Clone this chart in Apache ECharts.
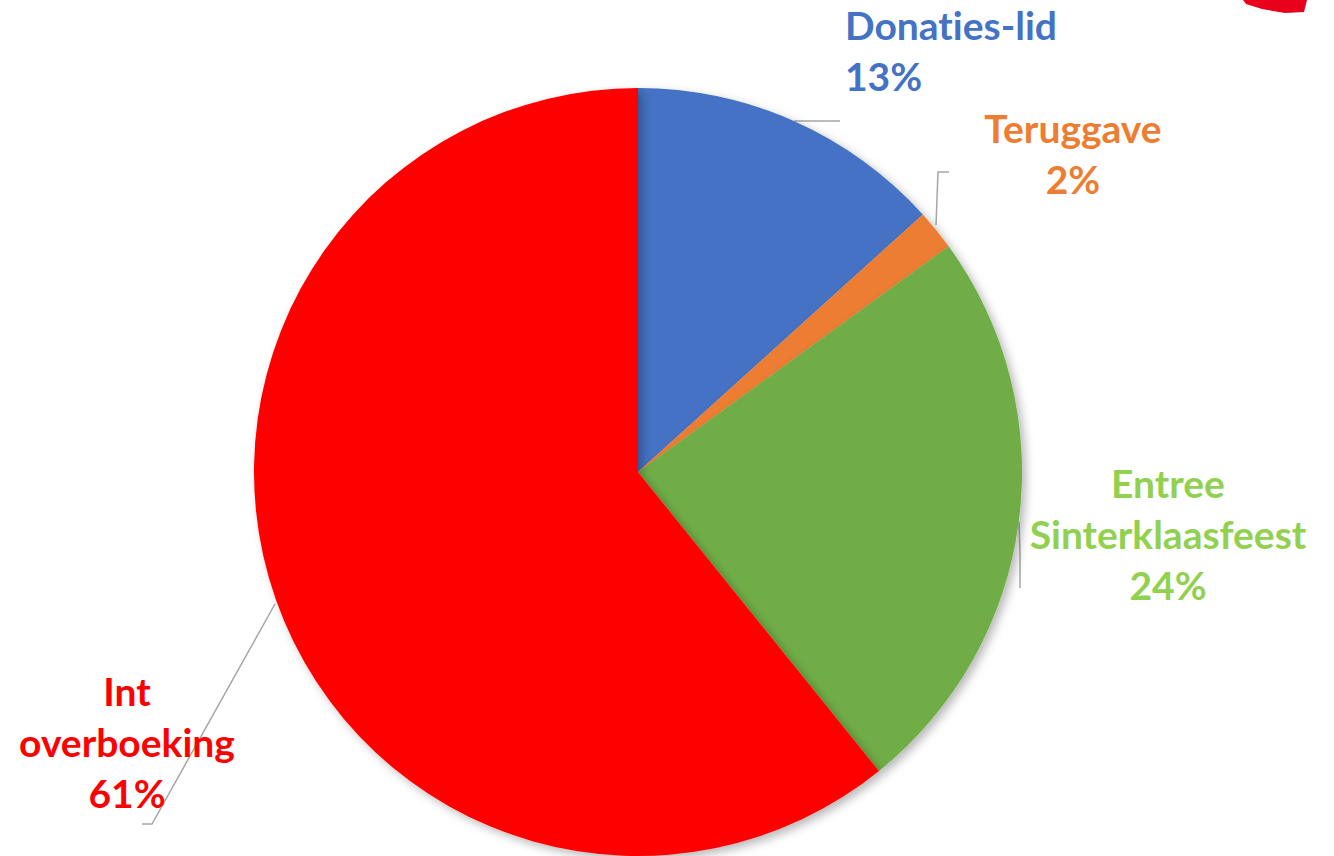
<!DOCTYPE html>
<html>
<head>
<meta charset="utf-8">
<script src="https://cdn.jsdelivr.net/npm/echarts@6/dist/echarts.min.js"></script>
<style>html,body{margin:0;padding:0;background:#fff}#c{width:1334px;height:856px;font-variant-ligatures:none;font-feature-settings:"liga" 0,"clig" 0}#c text{font-variant-ligatures:none;font-feature-settings:"liga" 0,"clig" 0}</style>
</head>
<body>
<div id="c"></div>
<script>
const categories = ['Donaties-lid', 'Teruggave', 'Entree Sinterklaasfeest', 'Int overboeking'];
const values = [13.3, 1.7, 24.2, 60.8];
const sliceColors = ['#4472C4', '#ED7D31', '#70AD47', '#FF0000'];
const labelColors = ['#4472C4', '#ED7D31', '#92D050', '#FF0000'];

const labelPos = [
  {x: 845, y: 50, align: 'left'},
  {x: 1073, y: 153, align: 'center'},
  {x: 1168, y: 534, align: 'center'},
  {x: 127, y: 742, align: 'center'}
];
const linePts = [
  [[794,121],[818,121],[840,121]],
  [[936,225],[938,172],[949,172]],
  [[1019,522],[1020,555],[1020,588]],
  [[275,604],[152,824],[142,824]]
];

const chart = echarts.init(document.getElementById('c'), null, {renderer: 'svg'});
chart.setOption({
  animation: false,
  graphic: [{
    type: 'polygon',
    shape: {points: [[1243,0],[1307,0],[1304,12],[1285,13],[1262,9],[1246,4]]},
    style: {fill: '#E8001C'}
  }],
  series: [{
    type: 'pie',
    center: [638, 472],
    radius: 384,
    startAngle: 90,
    clockwise: true,
    percentPrecision: 0,
    itemStyle: {
      shadowBlur: 10, shadowColor: 'rgba(0,0,0,0.28)', shadowOffsetX: 4, shadowOffsetY: 4
    },
    label: {
      show: true,
      fontFamily: 'Lato',
      fontWeight: 'bold',
      fontSize: 39,
      lineHeight: 51,
      overflow: 'none',
      formatter: p => p.name.replace(' ', '\n') + '\n' + p.percent + '%'
    },
    labelLine: {show: true, lineStyle: {color: '#A6A6A6', width: 1.5}},
    labelLayout: p => {
      const L = labelPos[p.dataIndex];
      return {x: L.x, y: L.y, align: L.align, verticalAlign: 'middle', labelLinePoints: linePts[p.dataIndex]};
    },
    data: categories.map((n, i) => ({
      name: n, value: values[i],
      itemStyle: {color: sliceColors[i]},
      label: {color: labelColors[i], align: labelPos[i].align}
    }))
  }]
});
</script>
</body>
</html>
